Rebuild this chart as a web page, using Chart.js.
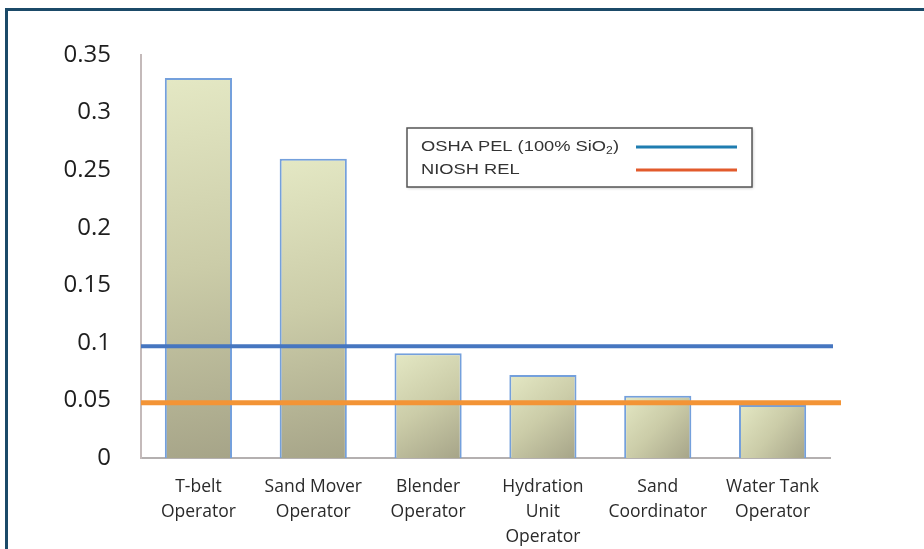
<!DOCTYPE html>
<html>
<head>
<meta charset="utf-8">
<script src="https://cdn.jsdelivr.net/npm/chart.js@4.4.1/dist/chart.umd.min.js"></script>
<style>
  html, body { margin: 0; padding: 0; background: #ffffff; }
  #wrap { position: relative; width: 924px; height: 549px; }
  canvas { display: block; }
</style>
</head>
<body>
<div id="wrap"><canvas id="c" width="924" height="549"></canvas></div>
<script>
// ---- Data ----
const categories = [
  ["T-belt", "Operator"],
  ["Sand Mover", "Operator"],
  ["Blender", "Operator"],
  ["Hydration", "Unit", "Operator"],
  ["Sand", "Coordinator"],
  ["Water Tank", "Operator"]
];
const silicaValues = [0.33, 0.26, 0.091, 0.072, 0.054, 0.046];
const yTickLabels = ["0", "0.05", "0.1", "0.15", "0.2", "0.25", "0.3", "0.35"];
const limitNames = ["OSHA PEL (100% SiO", "NIOSH REL"];
const limitValues = [0.097, 0.048];

// ---- Styles ----
const limitColors = ["#4676c0", "#f39436"];
const limitWidths = [4, 5];
const limitExtend = [3, 11];
const legendColors = ["#1f7db0", "#e25a2c"];

const framePlugin = {
  id: "frame",
  beforeDraw(chart) {
    const ctx = chart.ctx;
    ctx.save();
    ctx.fillStyle = "#1b4a68";
    ctx.fillRect(5, 8, 919, 3);
    ctx.fillRect(5, 8, 3, 541);
    ctx.restore();
  }
};

const limitsPlugin = {
  id: "limits",
  afterDatasetsDraw(chart) {
    const ctx = chart.ctx;
    const area = chart.chartArea;
    const y = chart.scales.y;
    ctx.save();
    limitValues.forEach((v, i) => {
      const py = y.getPixelForValue(v);
      ctx.beginPath();
      ctx.strokeStyle = limitColors[i];
      ctx.lineWidth = limitWidths[i];
      ctx.moveTo(area.left, py);
      ctx.lineTo(area.right + limitExtend[i], py);
      ctx.stroke();
    });
    ctx.restore();
  }
};

const legendPlugin = {
  id: "customLegend",
  afterDraw(chart) {
    const ctx = chart.ctx;
    const bx = 407, by = 128, bw = 345, bh = 59;
    ctx.save();
    ctx.shadowColor = "rgba(0,0,0,0.25)";
    ctx.shadowBlur = 3;
    ctx.shadowOffsetX = 1;
    ctx.shadowOffsetY = 1;
    ctx.fillStyle = "#ffffff";
    ctx.fillRect(bx, by, bw, bh);
    ctx.shadowColor = "transparent";
    ctx.strokeStyle = "#555555";
    ctx.lineWidth = 1.5;
    ctx.strokeRect(bx, by, bw, bh);

    ctx.fillStyle = "#333333";
    ctx.textBaseline = "middle";
    ctx.textAlign = "left";
    const rows = [147, 170];
    const sx = 1.22;
    const big = "15px 'Liberation Sans', Arial, sans-serif";
    const small = "10px 'Liberation Sans', Arial, sans-serif";
    ctx.save();
    ctx.translate(421, 0);
    ctx.scale(sx, 1);
    let x = 0;
    ctx.font = big;
    ctx.fillText(limitNames[0], x, rows[0]);
    x += ctx.measureText(limitNames[0]).width;
    ctx.font = small;
    ctx.fillText("2", x, rows[0] + 4);
    x += ctx.measureText("2").width;
    ctx.font = big;
    ctx.fillText(")", x, rows[0]);
    ctx.fillText(limitNames[1], 0, rows[1]);
    ctx.restore();

    rows.forEach((ry, i) => {
      ctx.beginPath();
      ctx.strokeStyle = legendColors[i];
      ctx.lineWidth = 3;
      ctx.moveTo(636, ry);
      ctx.lineTo(737, ry);
      ctx.stroke();
    });
    ctx.restore();
  }
};

function barFill(context) {
  const chart = context.chart;
  const area = chart.chartArea;
  if (!area) return "#d5d8b4";
  const xs = chart.scales.x, ys = chart.scales.y;
  const cx = xs.getPixelForValue(context.dataIndex);
  const w = xs.getPixelForTick(1) - xs.getPixelForTick(0);
  const half = w * 0.585 / 2;
  const top = ys.getPixelForValue(silicaValues[context.dataIndex]);
  const bottom = ys.getPixelForValue(0);
  const g = chart.ctx.createLinearGradient(cx - half, top, cx + half, bottom);
  g.addColorStop(0, "#e4e8c4");
  g.addColorStop(0.5, "#cbcca8");
  g.addColorStop(1, "#a6a488");
  return g;
}

new Chart(document.getElementById("c"), {
  type: "bar",
  data: {
    labels: categories,
    datasets: [{
      label: "Silica",
      data: silicaValues,
      backgroundColor: barFill,
      borderColor: "#74a0dc",
      borderWidth: 2,
      borderSkipped: "bottom",
      categoryPercentage: 1.0,
      barPercentage: 0.585
    }]
  },
  options: {
    responsive: false,
    animation: false,
    devicePixelRatio: 1,
    layout: { padding: { top: 55, right: 94, left: 0, bottom: 0 } },
    plugins: {
      legend: { display: false },
      tooltip: { enabled: false }
    },
    scales: {
      x: {
        grid: { display: false, drawTicks: false },
        border: { display: true, color: "#b4b0b0", width: 2 },
        ticks: {
          color: "#2a2a2a",
          font: { family: "'Open Sans', Lato, sans-serif", size: 17.5, lineHeight: 1.42 },
          padding: 17,
          maxRotation: 0,
          autoSkip: false
        },
        afterFit(scale) { scale.height = 91; }
      },
      y: {
        min: 0,
        max: 0.35,
        grid: { display: false, drawTicks: false },
        border: { display: true, color: "#c4baba", width: 2 },
        ticks: {
          stepSize: 0.05,
          color: "#1e1e1e",
          font: { family: "'Open Sans', Lato, sans-serif", size: 24 },
          padding: 30,
          callback: (v, i) => yTickLabels[i]
        },
        afterFit(scale) { scale.width = 141; }
      }
    }
  },
  plugins: [framePlugin, limitsPlugin, legendPlugin]
});
</script>
</body>
</html>
